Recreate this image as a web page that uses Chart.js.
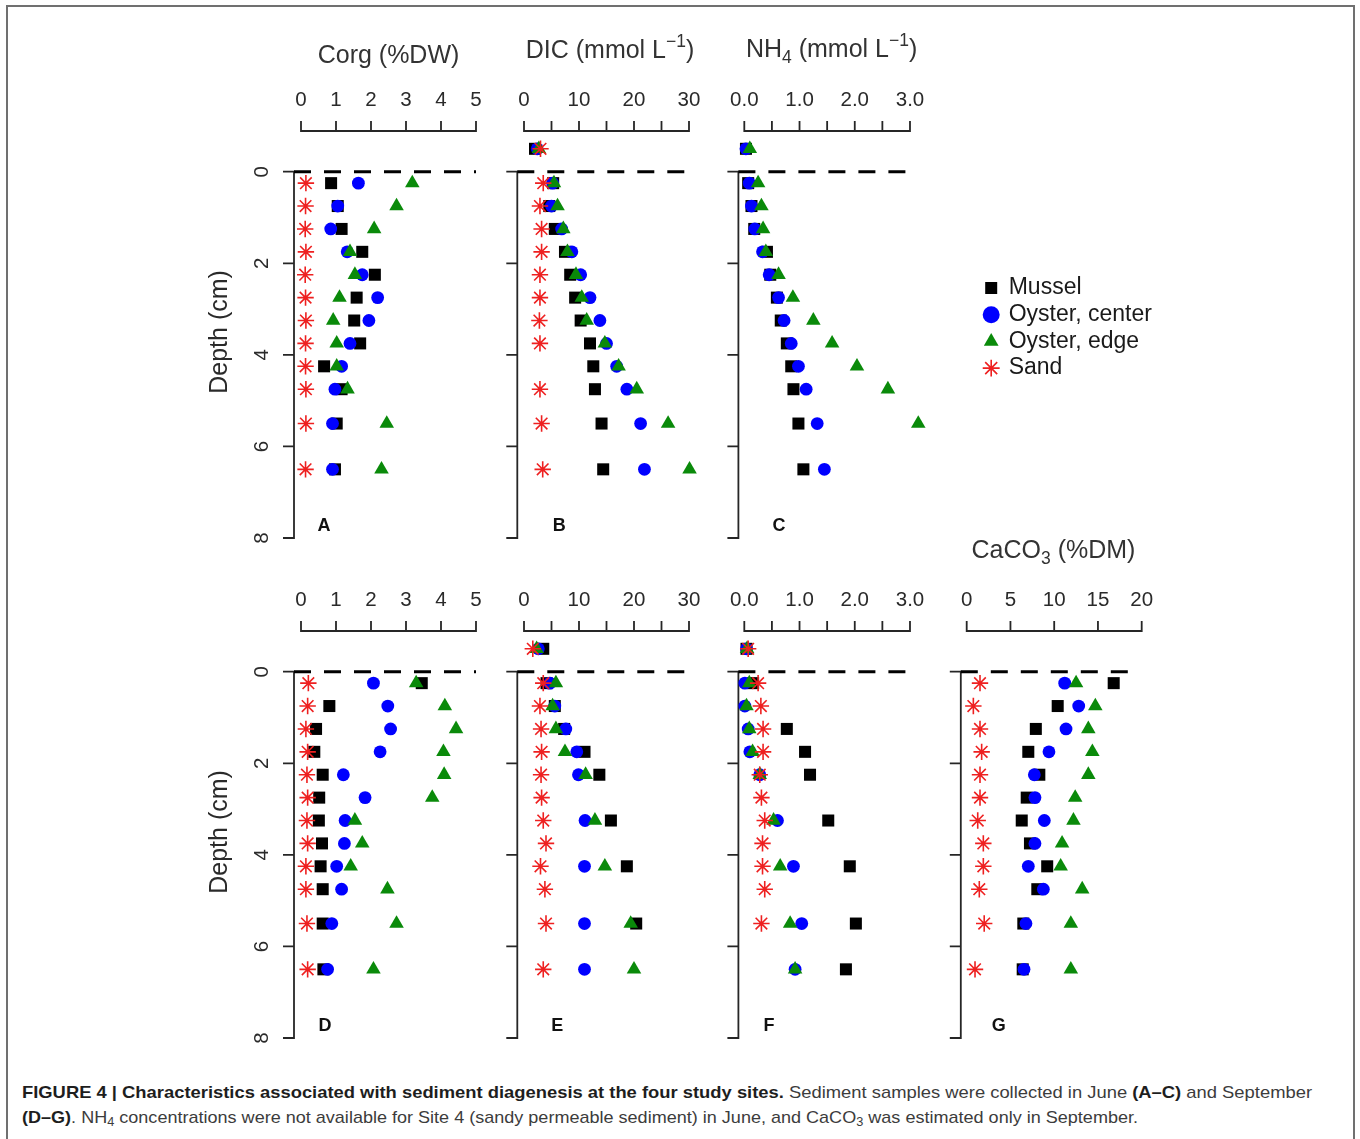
<!DOCTYPE html>
<html>
<head>
<meta charset="utf-8">
<script src="https://cdn.jsdelivr.net/npm/chart.js@4.4.1/dist/chart.umd.min.js"></script>
<style>
html,body{margin:0;padding:0;background:#fff;}
body{width:1360px;height:1139px;position:relative;overflow:hidden;font-family:'Liberation Sans',Arial,Helvetica,sans-serif;}
#frame{position:absolute;left:6px;top:5px;width:1349px;height:1160px;border:2px solid #707070;box-sizing:border-box;}
canvas{position:absolute;}
.cap{position:absolute;left:22px;white-space:nowrap;font-size:17px;line-height:20px;color:#3c3c3c;transform-origin:0 50%;}
.cap b{color:#1e1e1e;}
.cap sub{font-size:12px;vertical-align:-3px;line-height:0;}
</style>
</head>
<body>
<div id="frame"></div>
<canvas id="cA"></canvas>
<canvas id="cB"></canvas>
<canvas id="cC"></canvas>
<canvas id="cD"></canvas>
<canvas id="cE"></canvas>
<canvas id="cF"></canvas>
<canvas id="cG"></canvas>
<div class="cap" id="cap1" style="top:1083px"><b>FIGURE 4 | Characteristics associated with sediment diagenesis at the four study sites.</b> Sediment samples were collected in June <b>(A–C)</b> and September</div>
<div class="cap" id="cap2" style="top:1108px"><b>(D–G)</b>. NH<sub>4</sub> concentrations were not available for Site 4 (sandy permeable sediment) in June, and CaCO<sub>3</sub> was estimated only in September.</div>
<script>
// ---------------- DATA ----------------
const depths = [-0.5, 0.25, 0.75, 1.25, 1.75, 2.25, 2.75, 3.25, 3.75, 4.25, 4.75, 5.5, 6.5];
const seriesNames = ['Mussel', 'Oyster, center', 'Oyster, edge', 'Sand'];

// A: Corg (%DW), June
const corgJuneMussel = [null, 0.86, 1.05, 1.16, 1.75, 2.11, 1.59, 1.52, 1.69, 0.66, 1.16, 1.02, 0.97];
const corgJuneCenter = [null, 1.64, 1.05, 0.85, 1.32, 1.75, 2.19, 1.94, 1.40, 1.16, 0.97, 0.90, 0.90];
const corgJuneEdge   = [null, 3.18, 2.73, 2.09, 1.40, 1.54, 1.10, 0.92, 1.02, 1.02, 1.33, 2.45, 2.30];
const corgJuneSand   = [null, 0.14, 0.13, 0.12, 0.14, 0.12, 0.13, 0.14, 0.13, 0.13, 0.14, 0.14, 0.13];

// B: DIC (mmol/L), June
const dicJuneMussel = [2.0, 5.3, 4.6, 5.6, 7.45, 8.4, 9.3, 10.3, 12.0, 12.6, 12.9, 14.1, 14.4];
const dicJuneCenter = [2.4, 5.2, 5.0, 6.85, 8.7, 10.3, 12.0, 13.8, 15.0, 16.85, 18.7, 21.2, 21.9];
const dicJuneEdge   = [2.7, 5.45, 6.1, 7.15, 7.9, 9.45, 10.5, 11.4, 14.7, 17.2, 20.5, 26.2, 30.1];
const dicJuneSand   = [3.0, 3.5, 2.9, 3.2, 3.2, 2.9, 2.9, 2.8, 2.9, null, 2.9, 3.2, 3.4];

// C: NH4 (mmol/L), June (no sand data)
const nh4JuneMussel = [0.03, 0.07, 0.13, 0.18, 0.41, 0.47, 0.59, 0.66, 0.77, 0.85, 0.89, 0.98, 1.07];
const nh4JuneCenter = [0.03, 0.09, 0.13, 0.19, 0.33, 0.45, 0.62, 0.72, 0.85, 0.98, 1.12, 1.32, 1.45];
const nh4JuneEdge   = [0.10, 0.25, 0.31, 0.34, 0.39, 0.62, 0.88, 1.25, 1.59, 2.04, 2.60, 3.15, null];
const nh4JuneSand   = [null, null, null, null, null, null, null, null, null, null, null, null, null];

// D: Corg (%DW), September
const corgSeptMussel = [null, 3.45, 0.81, 0.43, 0.38, 0.62, 0.52, 0.51, 0.60, 0.56, 0.62, 0.62, 0.64];
const corgSeptCenter = [null, 2.07, 2.48, 2.56, 2.26, 1.21, 1.83, 1.26, 1.24, 1.02, 1.16, 0.88, 0.76];
const corgSeptEdge   = [null, 3.29, 4.11, 4.43, 4.07, 4.09, 3.75, 1.54, 1.75, 1.42, 2.47, 2.73, 2.07];
const corgSeptSand   = [null, 0.21, 0.19, 0.14, 0.19, 0.17, 0.19, 0.17, 0.19, 0.14, 0.14, 0.17, 0.19];

// E: DIC (mmol/L), September
const dicSeptMussel = [3.5, 4.1, 5.6, 7.3, 11.0, 13.7, null, 15.8, null, 18.7, null, 20.4, null];
const dicSeptCenter = [2.6, 4.7, 5.6, 7.6, 9.6, 9.9, null, 11.1, null, 11.0, null, 11.0, 11.0];
const dicSeptEdge   = [2.3, 5.8, 5.2, 5.8, 7.45, 11.2, null, 12.9, null, 14.7, null, 19.4, 20.0];
const dicSeptSand   = [1.6, 3.5, 2.9, 3.1, 3.2, 3.1, 3.2, 3.5, 4.0, 3.0, 3.8, 4.0, 3.5];

// F: NH4 (mmol/L), September
const nh4SeptMussel = [0.04, 0.16, null, 0.77, 1.10, 1.19, null, 1.52, null, 1.91, null, 2.02, 1.84];
const nh4SeptCenter = [0.04, 0.01, 0.01, 0.07, 0.10, 0.28, null, 0.60, null, 0.89, null, 1.04, 0.92];
const nh4SeptEdge   = [0.05, 0.09, 0.04, 0.09, 0.15, 0.28, null, 0.53, null, 0.65, null, 0.83, 0.92];
const nh4SeptSand   = [0.07, 0.25, 0.30, 0.34, 0.34, 0.28, 0.31, 0.37, 0.33, 0.33, 0.37, 0.31, null];

// G: CaCO3 (%DM), September
const caco3SeptMussel = [null, 16.8, 10.4, 7.9, 7.04, 8.3, 6.86, 6.29, 7.23, 9.2, 8.07, 6.47, 6.4];
const caco3SeptCenter = [null, 11.2, 12.8, 11.35, 9.4, 7.73, 7.8, 8.87, 7.8, 7.04, 8.76, 6.77, 6.55];
const caco3SeptEdge   = [null, 12.5, 14.7, 13.9, 14.36, 13.9, 12.4, 12.2, 10.9, 10.74, 13.2, 11.9, 11.9];
const caco3SeptSand   = [null, 1.52, 0.76, 1.52, 1.71, 1.52, 1.52, 1.26, 1.9, 1.9, 1.44, 2.0, 0.95];

// tick values and labels
const corgTicks = [0, 1, 2, 3, 4, 5];
const corgTickLabels = ['0', '1', '2', '3', '4', '5'];
const dicTicks = [0, 5, 10, 15, 20, 25, 30];
const dicTickLabels = ['0', '', '10', '', '20', '', '30'];
const nh4Ticks = [0, 0.5, 1, 1.5, 2, 2.5, 3];
const nh4TickLabels = ['0.0', '', '1.0', '', '2.0', '', '3.0'];
const caco3Ticks = [0, 5, 10, 15, 20];
const caco3TickLabels = ['0', '5', '10', '15', '20'];
const depthTicks = [0, 2, 4, 6, 8];
const depthTickLabels = ['0', '2', '4', '6', '8'];
const depthAxisTitle = 'Depth (cm)';
const corgTitle = [{t: 'Corg (%DW)'}];
const dicTitle = [{t: 'DIC (mmol L'}, {t: '\u22121', sup: true}, {t: ')'}];
const nh4Title = [{t: 'NH'}, {t: '4', sub: true}, {t: ' (mmol L'}, {t: '\u22121', sup: true}, {t: ')'}];
const caco3Title = [{t: 'CaCO'}, {t: '3', sub: true}, {t: ' (%DM)'}];

// ---------------- STYLE / LAYOUT ----------------
const FONT = "'Liberation Sans', Arial, Helvetica, sans-serif";
const TEXT = '#2a2a2a';
const SERIES_STYLE = [
  {key: 'mussel', pointStyle: 'rect',     radius: 8.5, color: '#000000', bw: 0,   order: 4},
  {key: 'center', pointStyle: 'circle',   radius: 6.4, color: '#0000ff', bw: 0,   order: 3},
  {key: 'edge',   pointStyle: 'triangle', radius: 8.4, color: '#0a8a0a', bw: 0,   order: 2},
  {key: 'sand',   pointStyle: 'star',     radius: 8.2, color: '#ee2020', bw: 1.6, order: 1}
];
const ROW_ZERO = [171.7, 671.7];   // page y of depth 0 per row
const PX_PER_CM = 45.79;
const Y_MIN = -1.27, Y_MAX = 8.1;
const ROW_CANVAS = [{top: 20, height: 540}, {top: 520, height: 540}];
const LEG = {font: 23, box: 12, padding: 3.7};
const AXIS = {xAxisAt: -0.889, xLabelAt: -1.566, tickLen: 10, yTickLen: 11, tickFont: 20.5,
              yLabelOff: 32, ylabOff: 74, ylabAt: 3.5, titleFont: 25, letterAt: 7.73};

const panels = [
  {id: 'cA', row: 0, canvasLeft: 180, canvasWidth: 320, axisX: 294, zeroX: 301, pxPerUnit: 35, areaRight: 490,
   series: [corgJuneMussel, corgJuneCenter, corgJuneEdge, corgJuneSand],
   xTicks: corgTicks, xTickLabels: corgTickLabels, yLabels: true, title: corgTitle, titleX: 2.5, titleAt: -2.367,
   dashEnd: 5.0, letter: 'A', letterOffset: 30},
  {id: 'cB', row: 0, canvasLeft: 495, canvasWidth: 225, axisX: 517.3, zeroX: 524, pxPerUnit: 5.5, areaRight: 705,
   series: [dicJuneMussel, dicJuneCenter, dicJuneEdge, dicJuneSand],
   xTicks: dicTicks, xTickLabels: dicTickLabels, yLabels: false, title: dicTitle, titleX: 15.64, titleAt: -2.477,
   dashEnd: 31.4, letter: 'B', letterOffset: 42},
  {id: 'cC', row: 0, canvasLeft: 720, canvasWidth: 0, axisX: 738.4, zeroX: 744.3, pxPerUnit: 55.23, areaRight: 981.5,
   series: [nh4JuneMussel, nh4JuneCenter, nh4JuneEdge, nh4JuneSand],
   xTicks: nh4Ticks, xTickLabels: nh4TickLabels, yLabels: false, title: nh4Title, titleX: 1.58, titleAt: -2.5,
   dashEnd: 3.15, letter: 'C', letterOffset: 40.5, legend: true},
  {id: 'cD', row: 1, canvasLeft: 180, canvasWidth: 320, axisX: 294, zeroX: 301, pxPerUnit: 35, areaRight: 490,
   series: [corgSeptMussel, corgSeptCenter, corgSeptEdge, corgSeptSand],
   xTicks: corgTicks, xTickLabels: corgTickLabels, yLabels: true, title: null,
   dashEnd: 5.0, letter: 'D', letterOffset: 31},
  {id: 'cE', row: 1, canvasLeft: 495, canvasWidth: 225, axisX: 517.3, zeroX: 524, pxPerUnit: 5.5, areaRight: 705,
   series: [dicSeptMussel, dicSeptCenter, dicSeptEdge, dicSeptSand],
   xTicks: dicTicks, xTickLabels: dicTickLabels, yLabels: false, title: null,
   dashEnd: 31.4, letter: 'E', letterOffset: 40},
  {id: 'cF', row: 1, canvasLeft: 720, canvasWidth: 240, axisX: 738.4, zeroX: 744.3, pxPerUnit: 55.23, areaRight: 940,
   series: [nh4SeptMussel, nh4SeptCenter, nh4SeptEdge, nh4SeptSand],
   xTicks: nh4Ticks, xTickLabels: nh4TickLabels, yLabels: false, title: null,
   dashEnd: 3.15, letter: 'F', letterOffset: 30.5},
  {id: 'cG', row: 1, canvasLeft: 935, canvasWidth: 245, axisX: 960.8, zeroX: 966.7, pxPerUnit: 8.75, areaRight: 1160,
   series: [caco3SeptMussel, caco3SeptCenter, caco3SeptEdge, caco3SeptSand],
   xTicks: caco3Ticks, xTickLabels: caco3TickLabels, yLabels: false, title: caco3Title, titleX: 9.92, titleAt: -2.477,
   dashEnd: 19.8, letter: 'G', letterOffset: 38}
];

// ---------------- R-style axes plugin ----------------
function drawRich(ctx, segs, cx, baseY, size) {
  const parts = segs.map(s => {
    const fs = (s.sup || s.sub) ? size * 0.7 : size;
    ctx.font = fs + 'px ' + FONT;
    return {t: s.t, fs, w: ctx.measureText(s.t).width, dy: s.sup ? -size * 0.45 : (s.sub ? size * 0.22 : 0)};
  });
  const total = parts.reduce((a, p) => a + p.w, 0);
  let x = cx - total / 2;
  ctx.textAlign = 'left'; ctx.textBaseline = 'alphabetic';
  parts.forEach(p => { ctx.font = p.fs + 'px ' + FONT; ctx.fillText(p.t, x, baseY + p.dy); x += p.w; });
}

const rAxes = {
  id: 'rAxes',
  beforeDatasetsDraw(chart, args, o) {
    if (!o || !o.xTicks) return;
    const ctx = chart.ctx, xs = chart.scales.x, ys = chart.scales.y;
    const ax = chart.chartArea.left;
    ctx.save();
    ctx.strokeStyle = '#262626'; ctx.fillStyle = TEXT; ctx.lineWidth = 1.8; ctx.lineCap = 'butt';
    // top x axis
    const axY = ys.getPixelForValue(AXIS.xAxisAt);
    ctx.beginPath();
    ctx.moveTo(xs.getPixelForValue(o.xTicks[0]), axY);
    ctx.lineTo(xs.getPixelForValue(o.xTicks[o.xTicks.length - 1]), axY);
    o.xTicks.forEach(v => { const p = xs.getPixelForValue(v); ctx.moveTo(p, axY + 0.9); ctx.lineTo(p, axY - AXIS.tickLen); });
    ctx.stroke();
    ctx.font = AXIS.tickFont + 'px ' + FONT; ctx.textAlign = 'center'; ctx.textBaseline = 'middle';
    const ly = ys.getPixelForValue(AXIS.xLabelAt);
    o.xTicks.forEach((v, i) => { if (o.xTickLabels[i]) ctx.fillText(o.xTickLabels[i], xs.getPixelForValue(v), ly); });
    // left y axis (0..8)
    ctx.beginPath();
    ctx.moveTo(ax, ys.getPixelForValue(depthTicks[0]));
    ctx.lineTo(ax, ys.getPixelForValue(depthTicks[depthTicks.length - 1]));
    depthTicks.forEach(v => { const p = ys.getPixelForValue(v); ctx.moveTo(ax + 0.9, p); ctx.lineTo(ax - AXIS.yTickLen, p); });
    ctx.stroke();
    if (o.yLabels) {
      depthTicks.forEach((v, i) => {
        ctx.save(); ctx.translate(ax - AXIS.yLabelOff, ys.getPixelForValue(v)); ctx.rotate(-Math.PI / 2);
        ctx.fillText(depthTickLabels[i], 0, 0); ctx.restore();
      });
      ctx.save(); ctx.font = AXIS.titleFont + 'px ' + FONT;
      ctx.translate(ax - AXIS.ylabOff, ys.getPixelForValue(AXIS.ylabAt)); ctx.rotate(-Math.PI / 2);
      ctx.fillText(depthAxisTitle, 0, 0); ctx.restore();
    }
    // dashed line at depth 0
    ctx.save();
    ctx.strokeStyle = '#000'; ctx.lineWidth = 3; ctx.setLineDash([17, 13]);
    const y0 = ys.getPixelForValue(0);
    ctx.beginPath(); ctx.moveTo(ax, y0); ctx.lineTo(xs.getPixelForValue(o.dashEnd), y0); ctx.stroke();
    ctx.restore();
    // title
    if (o.title) { ctx.fillStyle = '#333'; drawRich(ctx, o.title, xs.getPixelForValue(o.titleX), ys.getPixelForValue(o.titleAt), AXIS.titleFont); }
    // panel letter
    ctx.fillStyle = '#111'; ctx.font = 'bold 18px ' + FONT; ctx.textAlign = 'center'; ctx.textBaseline = 'middle';
    ctx.fillText(o.letter, ax + o.letterOffset, ys.getPixelForValue(AXIS.letterAt));
    ctx.restore();
  }
};

// ---------------- build charts ----------------
function toPoints(vals) {
  const out = [];
  vals.forEach((v, i) => { if (v !== null) out.push({x: v, y: depths[i]}); });
  return out;
}

const mctx = document.createElement('canvas').getContext('2d');
mctx.font = LEG.font + 'px ' + FONT;
const maxLegText = Math.max(...seriesNames.map(s => mctx.measureText(s).width));
const legendW = LEG.padding + LEG.box + LEG.font / 2 + maxLegText + 10;

panels.forEach(p => {
  const rc = ROW_CANVAS[p.row];
  const areaTop = ROW_ZERO[p.row] + PX_PER_CM * Y_MIN;
  const areaBottom = ROW_ZERO[p.row] + PX_PER_CM * Y_MAX;
  let W = p.canvasWidth;
  let padRight;
  if (p.legend) {
    W = Math.ceil((p.areaRight - p.canvasLeft) + legendW) + 4;
    padRight = W - (p.areaRight - p.canvasLeft) - legendW;
  } else {
    padRight = p.canvasLeft + W - p.areaRight;
  }
  const cv = document.getElementById(p.id);
  cv.width = W; cv.height = rc.height;
  cv.style.left = p.canvasLeft + 'px'; cv.style.top = rc.top + 'px';
  cv.style.width = W + 'px'; cv.style.height = rc.height + 'px';

  const datasets = SERIES_STYLE.map((s, i) => ({
    label: seriesNames[i],
    data: toPoints(p.series[i]),
    pointStyle: s.pointStyle,
    pointRadius: s.radius,
    pointHoverRadius: s.radius,
    backgroundColor: s.color,
    borderColor: s.color,
    pointBorderWidth: s.bw,
    borderWidth: s.bw,
    showLine: false,
    order: s.order,
    clip: false
  }));

  new Chart(cv, {
    type: 'scatter',
    data: {datasets},
    options: {
      responsive: false,
      animation: false,
      events: [],
      layout: {padding: {left: p.axisX - p.canvasLeft, right: padRight, top: areaTop - rc.top, bottom: rc.top + rc.height - areaBottom}},
      scales: {
        x: {type: 'linear', display: false, min: (p.axisX - p.zeroX) / p.pxPerUnit, max: (p.areaRight - p.zeroX) / p.pxPerUnit},
        y: {type: 'linear', display: false, min: Y_MIN, max: Y_MAX, reverse: true}
      },
      plugins: {
        tooltip: {enabled: false},
        legend: p.legend ? {
          display: true, position: 'right', align: 'center',
          labels: {usePointStyle: true, boxWidth: LEG.box, boxHeight: LEG.box, padding: LEG.padding,
                   color: '#1a1a1a', font: {size: LEG.font, family: FONT},
                   sort: (a, b) => a.datasetIndex - b.datasetIndex}
        } : {display: false},
        rAxes: {xTicks: p.xTicks, xTickLabels: p.xTickLabels, yLabels: p.yLabels, title: p.title,
                titleX: p.titleX, titleAt: p.titleAt, dashEnd: p.dashEnd, letter: p.letter, letterOffset: p.letterOffset}
      }
    },
    plugins: [rAxes]
  });
});

// fit caption lines to the reference widths
[['cap1', 1290], ['cap2', 1116]].forEach(([id, w]) => {
  const el = document.getElementById(id);
  const cw = el.getBoundingClientRect().width;
  el.style.transform = 'scaleX(' + (w / cw) + ')';
});
</script>
</body>
</html>
